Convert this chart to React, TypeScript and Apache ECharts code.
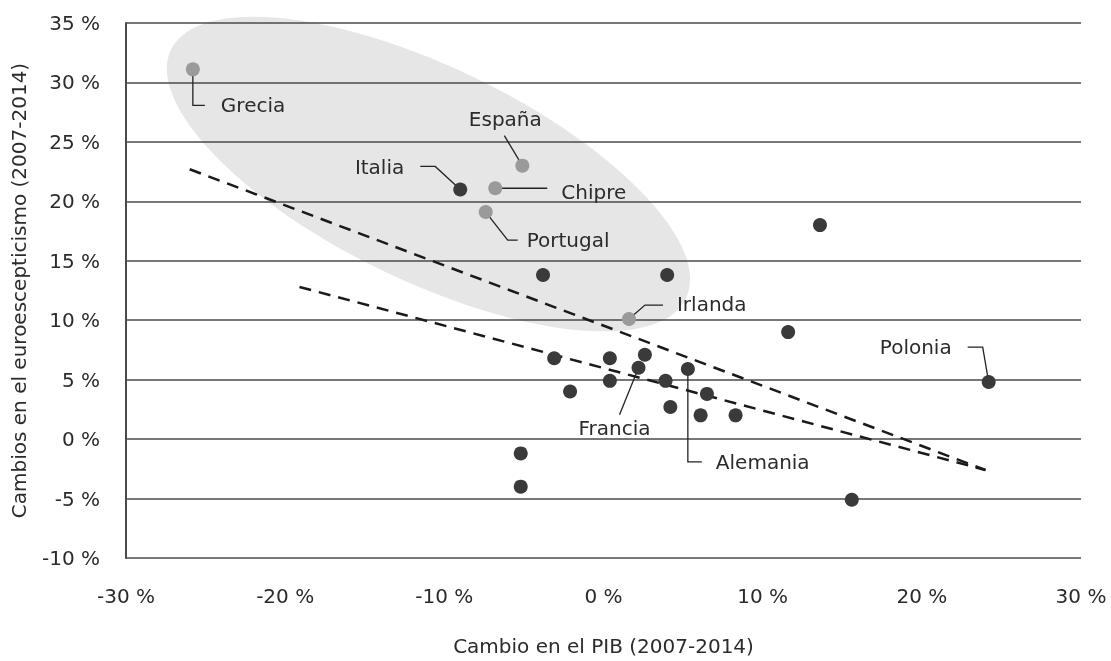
import React, { useEffect, useRef } from 'react';
import * as echarts from 'echarts';

// ---- Data ----
const pointLabels = ['Grecia', 'España', 'Italia', 'Chipre', 'Portugal', '', '', 'Irlanda', '', '', 'Polonia', '', '', '', '', 'Francia', 'Alemania', '', '', '', '', '', '', '', '', ''];
const gdpChange = [-25.8, -5.1, -9.0, -6.8, -7.4, -3.8, 4.0, 1.6, 11.6, 13.6, 24.2, 15.6, -3.1, 0.4, 2.6, 2.2, 5.3, 0.4, 3.9, -2.1, 6.5, 4.2, 6.1, 8.3, -5.2, -5.2];
const euroChange = [31.1, 23.0, 21.0, 21.1, 19.1, 13.8, 13.8, 10.1, 9.0, 18.0, 4.8, -5.1, 6.8, 6.8, 7.1, 6.0, 5.9, 4.9, 4.9, 4.0, 3.8, 2.7, 2.0, 2.0, -1.2, -4.0];
const highlighted = [true, true, false, true, true, false, false, true, false, false, false, false, false, false, false, false, false, false, false, false, false, false, false, false, false, false];

// trend lines (all countries / rest)
const trendAllX = [-26.0, 24.0];
const trendAllY = [22.7, -2.6];
const trendRestX = [-19.1, 24.0];
const trendRestY = [12.8, -2.6];

// highlighted group (ellipse centre in data units)
const groupCentre = [-11.0, 22.3];

const xTitle = 'Cambio en el PIB (2007-2014)';
const yTitle = 'Cambios en el euroescepticismo (2007-2014)';

// ---- Layout of annotations (pixel offsets from the point) ----
type Layout = { line: number[][]; text: [number, number]; align: string };
const labelLayout: Record<string, Layout> = {
  Grecia: { line: [[0, 0], [0, 36], [12, 36]], text: [28, 36], align: 'left' },
  'España': { line: [[0, 0], [-18, -30]], text: [-17, -47], align: 'center' },
  Italia: { line: [[0, 0], [-25, -23], [-40, -23]], text: [-56, -22], align: 'right' },
  Chipre: { line: [[0, 0], [52, 0]], text: [66, 4], align: 'left' },
  Portugal: { line: [[0, 0], [22, 28], [32, 28]], text: [41, 28], align: 'left' },
  Irlanda: { line: [[0, 0], [16, -14], [34, -14]], text: [48, -15], align: 'left' },
  Francia: { line: [[0, 0], [-19, 47]], text: [-24, 60], align: 'center' },
  Alemania: { line: [[0, 0], [0, 93], [14, 93]], text: [28, 93], align: 'left' },
  Polonia: { line: [[0, 0], [-6, -35], [-21, -35]], text: [-37, -35], align: 'right' },
};

const FONT = '"DejaVu Sans", "Open Sans", sans-serif';
const FS = 20;
const TEXT = '#2b2b2b';

export default function App() {
  const ref = useRef<HTMLDivElement>(null);
  useEffect(() => {
    if (!ref.current) return;
    const chart = echarts.init(ref.current, undefined, { renderer: 'svg' });

    const darkPts: number[][] = [];
    const grayPts: number[][] = [];
    const labeled: any[] = [];
    gdpChange.forEach((x, i) => {
      const p = [x, euroChange[i]];
      (highlighted[i] ? grayPts : darkPts).push(p);
      if (pointLabels[i]) labeled.push({ value: p, name: pointLabels[i] });
    });

    chart.setOption({
      animation: false,
      grid: { left: 126, right: 30, top: 23, bottom: 99.5 },
      xAxis: {
        type: 'value', min: -30, max: 30, interval: 10, z: 1,
        axisLine: { show: false, onZero: false }, axisTick: { show: false }, splitLine: { show: false },
        axisLabel: { formatter: (v: number) => `${v} %`, fontSize: FS, color: TEXT, fontFamily: FONT, margin: 28 },
        name: xTitle, nameLocation: 'middle', nameGap: 78,
        nameTextStyle: { fontSize: FS, color: TEXT, fontFamily: FONT },
      },
      yAxis: {
        type: 'value', min: -10, max: 35, interval: 5, z: 1,
        axisLine: { show: true, onZero: false, lineStyle: { color: '#4a4a4a', width: 2 } },
        axisTick: { show: false },
        splitLine: { show: true, lineStyle: { color: '#4a4a4a', width: 1.5 } },
        axisLabel: { formatter: (v: number) => `${v} %`, fontSize: FS, color: TEXT, fontFamily: FONT, margin: 26 },
        name: yTitle, nameLocation: 'middle', nameGap: 97,
        nameTextStyle: { fontSize: FS, color: TEXT, fontFamily: FONT },
      },
      series: [
        {
          type: 'custom', z: 0, silent: true, data: [groupCentre],
          renderItem: (_p: any, api: any) => {
            const c = api.coord([api.value(0), api.value(1)]);
            return {
              type: 'ellipse', x: c[0], y: c[1], rotation: -0.45,
              shape: { cx: 0, cy: 0, rx: 286, ry: 107 },
              style: { fill: '#e6e6e7' },
            };
          },
        },
        {
          type: 'line', z: 2, symbol: 'none', silent: true,
          data: trendAllX.map((x, i) => [x, trendAllY[i]]),
          lineStyle: { color: '#1a1a1a', width: 2.5, type: [12, 8] },
        },
        {
          type: 'line', z: 2, symbol: 'none', silent: true,
          data: trendRestX.map((x, i) => [x, trendRestY[i]]),
          lineStyle: { color: '#1a1a1a', width: 2.5, type: [12, 8] },
        },
        {
          type: 'custom', z: 3, silent: true, data: labeled,
          renderItem: (params: any, api: any) => {
            const name = labeled[params.dataIndex].name;
            const L = labelLayout[name];
            const p = api.coord([api.value(0), api.value(1)]);
            return {
              type: 'group',
              children: [
                {
                  type: 'polyline',
                  shape: { points: L.line.map(([dx, dy]) => [p[0] + dx, p[1] + dy]) },
                  style: { stroke: '#222', lineWidth: 1.3, fill: null },
                },
                {
                  type: 'text', x: p[0] + L.text[0], y: p[1] + L.text[1],
                  style: {
                    text: name, fill: TEXT, font: `${FS}px ${FONT}`,
                    textAlign: L.align, align: L.align,
                    textVerticalAlign: 'middle', verticalAlign: 'middle',
                  },
                },
              ],
            };
          },
        },
        {
          type: 'scatter', z: 4, symbolSize: 14, data: darkPts,
          itemStyle: { color: '#3a3a3a', opacity: 1 },
        },
        {
          type: 'scatter', z: 4, symbolSize: 14, data: grayPts,
          itemStyle: { color: '#9a9a9a', opacity: 1 },
        },
      ],
    });
    return () => chart.dispose();
  }, []);
  return <div ref={ref} style={{ position: 'fixed', left: 0, top: 0, width: 1111, height: 661 }} />;
}
